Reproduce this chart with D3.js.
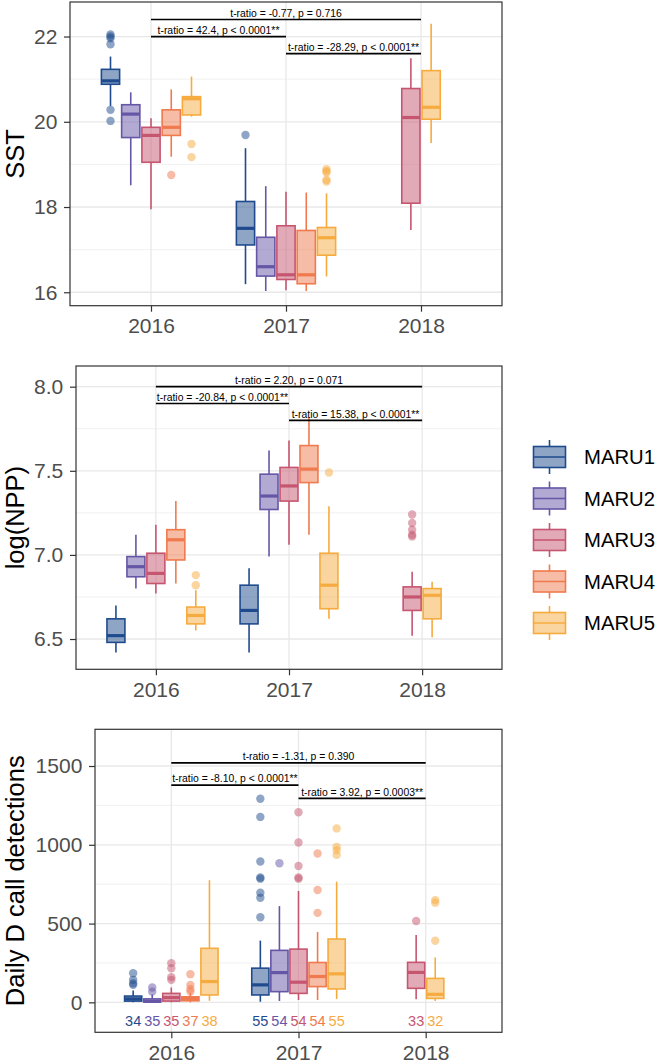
<!DOCTYPE html>
<html><head><meta charset="utf-8">
<script src="https://cdn.jsdelivr.net/npm/d3@7"></script>
<style>
body{margin:0;background:#fff}
svg{display:block}
text{font-family:"Liberation Sans",Arial,Helvetica,sans-serif}
</style>
</head><body>
<svg id="chart" width="661" height="1064"></svg>
<script>
// ---------- data ----------
const years = ["2016", "2017", "2018"];
const sites = ["MARU1", "MARU2", "MARU3", "MARU4", "MARU5"];
const siteColors = ["#1f4b8e", "#6656a6", "#c65570", "#f07a4d", "#f6ab3f"];

// [year, site, lower whisker, q1, median, q3, upper whisker, outliers]
const sstBoxes = [
  ["2016","MARU1",20.37,20.88,20.96,21.23,21.53,[22.05,22.0,21.96,21.82,20.28,20.02]],
  ["2016","MARU2",18.51,19.63,20.18,20.40,20.69,[]],
  ["2016","MARU3",17.95,19.05,19.68,19.87,20.08,[]],
  ["2016","MARU4",19.18,19.68,19.87,20.28,20.76,[18.75]],
  ["2016","MARU5",20.12,20.16,20.54,20.59,21.06,[19.48,19.17]],
  ["2017","MARU1",16.19,17.11,17.50,18.13,19.38,[19.69]],
  ["2017","MARU2",16.03,16.38,16.60,17.29,18.49,[]],
  ["2017","MARU3",16.05,16.30,16.41,17.56,18.36,[]],
  ["2017","MARU4",16.03,16.20,16.41,17.45,18.34,[]],
  ["2017","MARU5",16.37,16.87,17.28,17.52,18.32,[18.89,18.84,18.81,18.64,18.60]],
  ["2018","MARU3",17.46,18.09,20.10,20.78,21.49,[]],
  ["2018","MARU5",19.50,20.06,20.34,21.20,22.30,[]]
];
const nppBoxes = [
  ["2016","MARU1",6.42,6.48,6.52,6.62,6.70,[]],
  ["2016","MARU2",6.80,6.87,6.93,6.99,7.12,[]],
  ["2016","MARU3",6.77,6.83,6.89,7.01,7.18,[]],
  ["2016","MARU4",6.83,6.97,7.09,7.15,7.32,[]],
  ["2016","MARU5",6.55,6.59,6.64,6.69,6.79,[6.82,6.88]],
  ["2017","MARU1",6.42,6.59,6.67,6.82,6.92,[]],
  ["2017","MARU2",6.99,7.27,7.35,7.48,7.62,[]],
  ["2017","MARU3",7.06,7.32,7.41,7.52,7.68,[]],
  ["2017","MARU4",7.12,7.43,7.51,7.65,7.82,[]],
  ["2017","MARU5",6.62,6.68,6.82,7.01,7.29,[7.49]],
  ["2018","MARU3",6.52,6.67,6.75,6.81,6.90,[7.24,7.19,7.15,7.12,7.11]],
  ["2018","MARU5",6.51,6.62,6.76,6.80,6.84,[]]
];
const callBoxes = [
  ["2016","MARU1",0,8,22,40,75,[111,121,143,185]],
  ["2016","MARU2",0,2,7,22,50,[68,94]],
  ["2016","MARU3",0,8,30,57,94,[143,160,217,249]],
  ["2016","MARU4",0,10,25,35,60,[68,85,111,179]],
  ["2016","MARU5",10,47,132,343,775,[]],
  ["2017","MARU1",4,47,111,217,392,[540,664,696,785,792,894,1177,1292]],
  ["2017","MARU2",9,68,189,330,611,[883]],
  ["2017","MARU3",15,57,128,338,707,[785,792,866,1015,1207]],
  ["2017","MARU4",15,100,164,253,447,[568,713,945]],
  ["2017","MARU5",21,85,181,402,766,[936,966,987,1104]],
  ["2018","MARU3",19,89,190,254,427,[516]],
  ["2018","MARU5",9,25,51,152,285,[391,632,649]]
];
// sample sizes for the call panel
const callCounts = [
  ["2016","MARU1",34],["2016","MARU2",35],["2016","MARU3",35],["2016","MARU4",37],["2016","MARU5",38],
  ["2017","MARU1",55],["2017","MARU2",54],["2017","MARU3",54],["2017","MARU4",54],["2017","MARU5",55],
  ["2018","MARU3",33],["2018","MARU5",32]
];
// [from year, to year, bracket height, label]
const sstTests = [
  ["2016","2018",22.4,"t-ratio = -0.77, p = 0.716"],
  ["2016","2017",22.0,"t-ratio = 42.4, p < 0.0001**"],
  ["2017","2018",21.6,"t-ratio = -28.29, p < 0.0001**"]
];
const nppTests = [
  ["2016","2018",8.0,"t-ratio = 2.20, p = 0.071"],
  ["2016","2017",7.9,"t-ratio = -20.84, p < 0.0001**"],
  ["2017","2018",7.8,"t-ratio = 15.38, p < 0.0001**"]
];
const callTests = [
  ["2016","2018",1520,"t-ratio = -1.31, p = 0.390"],
  ["2016","2017",1379,"t-ratio = -8.10, p < 0.0001**"],
  ["2017","2018",1294,"t-ratio = 3.92, p = 0.0003**"]
];
const sstTicks = [16, 18, 20, 22], sstMinor = [17, 19, 21];
const nppTicks = [6.5, 7.0, 7.5, 8.0], nppMinor = [6.75, 7.25, 7.75];
const callTicks = [0, 500, 1000, 1500], callMinor = [250, 750, 1250];
const countLabelValue = -150;

// ---------- drawing ----------
const svg = d3.select("#chart");
const colorOf = d3.scaleOrdinal().domain(sites).range(siteColors);

function drawPanel(cfg) {
  const {left, top, right, bottom, domain, boxes, ticks, minor, fmt, tests, title, counts} = cfg;
  const x = d3.scalePoint().domain(years).range([left, right]).padding(0.6);
  const y = d3.scaleLinear().domain(domain).range([bottom, top]);
  const step = x.step();
  const slot = 0.15 * step, bw = 0.135 * step;
  const g = svg.append("g");

  // grid
  g.selectAll(".gmin").data(minor).join("line")
    .attr("x1", left).attr("x2", right).attr("y1", d => y(d)).attr("y2", d => y(d))
    .attr("stroke", "#efefef").attr("stroke-width", 0.9);
  g.selectAll(".gmaj").data(ticks).join("line")
    .attr("x1", left).attr("x2", right).attr("y1", d => y(d)).attr("y2", d => y(d))
    .attr("stroke", "#e8e8e8").attr("stroke-width", 1.3);
  g.selectAll(".gv").data(years).join("line")
    .attr("x1", d => x(d)).attr("x2", d => x(d)).attr("y1", top).attr("y2", bottom)
    .attr("stroke", "#e8e8e8").attr("stroke-width", 1.3);

  function xPos(year, site) {
    const present = boxes.filter(b => b[0] === year).map(b => b[1])
      .sort((a, b) => sites.indexOf(a) - sites.indexOf(b));
    const i = present.indexOf(site), n = present.length;
    return x(year) + (i - (n - 1) / 2) * slot;
  }

  boxes.forEach(b => {
    const [yr, site, lo, q1, med, q3, hi, out] = b;
    const cx = xPos(yr, site), col = colorOf(site);
    const bg = g.append("g");
    bg.append("line").attr("x1", cx).attr("x2", cx).attr("y1", y(hi)).attr("y2", y(q3))
      .attr("stroke", col).attr("stroke-width", 1.6);
    bg.append("line").attr("x1", cx).attr("x2", cx).attr("y1", y(q1)).attr("y2", y(lo))
      .attr("stroke", col).attr("stroke-width", 1.6);
    bg.append("rect").attr("x", cx - bw / 2).attr("width", bw)
      .attr("y", y(q3)).attr("height", Math.max(0.5, y(q1) - y(q3)))
      .attr("fill", col).attr("fill-opacity", 0.5)
      .attr("stroke", col).attr("stroke-width", 1.6);
    bg.append("line").attr("x1", cx - bw / 2).attr("x2", cx + bw / 2)
      .attr("y1", y(med)).attr("y2", y(med))
      .attr("stroke", col).attr("stroke-width", 3.2);
    bg.selectAll("circle").data(out).join("circle")
      .attr("cx", cx).attr("cy", d => y(d)).attr("r", 4.2)
      .attr("fill", col).attr("fill-opacity", 0.5);
  });

  if (counts) {
    g.selectAll(".cnt").data(counts).join("text")
      .attr("x", d => xPos(d[0], d[1])).attr("y", y(countLabelValue))
      .attr("text-anchor", "middle").attr("font-size", 14.5)
      .attr("fill", d => colorOf(d[1])).text(d => d[2]);
  }

  // tests
  tests.forEach(t => {
    const x1 = x(t[0]), x2 = x(t[1]), yy = y(t[2]);
    g.append("line").attr("x1", x1).attr("x2", x2).attr("y1", yy).attr("y2", yy)
      .attr("stroke", "#000").attr("stroke-width", 1.7);
    g.append("text").attr("x", (x1 + x2) / 2).attr("y", yy - 2.6)
      .attr("text-anchor", "middle").attr("font-size", 10.4).attr("fill", "#000")
      .text(t[3]);
  });

  // border
  g.append("rect").attr("x", left).attr("y", top).attr("width", right - left).attr("height", bottom - top)
    .attr("fill", "none").attr("stroke", "#333").attr("stroke-width", 1.2);

  // axes
  const ya = svg.append("g").attr("transform", `translate(${left},0)`)
    .call(d3.axisLeft(y).tickValues(ticks).tickFormat(fmt).tickSize(6).tickPadding(6.7));
  const xa = svg.append("g").attr("transform", `translate(0,${bottom})`)
    .call(d3.axisBottom(x).tickSize(6).tickPadding(6.5));
  [ya, xa].forEach(a => {
    a.select(".domain").remove();
    a.selectAll(".tick line").attr("stroke", "#333").attr("stroke-width", 1.2);
    a.selectAll(".tick text").attr("fill", "#4d4d4d").attr("font-size", 21)
      .attr("font-family", '"Liberation Sans",Arial,sans-serif');
  });

  svg.append("text").attr("transform", `translate(23.5,${(top + bottom) / 2}) rotate(-90)`)
    .attr("text-anchor", "middle").attr("font-size", 25.5).attr("fill", "#000").text(title);
}

drawPanel({left: 70, top: 2, right: 502, bottom: 305.7, domain: [15.685, 22.81],
  boxes: sstBoxes, ticks: sstTicks, minor: sstMinor, fmt: d3.format("d"), tests: sstTests, title: "SST"});
drawPanel({left: 76, top: 366, right: 502, bottom: 669.3, domain: [6.32, 8.123],
  boxes: nppBoxes, ticks: nppTicks, minor: nppMinor, fmt: d3.format(".1f"), tests: nppTests, title: "log(NPP)"});
drawPanel({left: 95, top: 729.3, right: 502, bottom: 1032.3, domain: [-190, 1733],
  boxes: callBoxes, ticks: callTicks, minor: callMinor, fmt: d3.format("d"), tests: callTests,
  title: "Daily D call detections", counts: callCounts});

// legend
const legY = d3.scalePoint().domain(sites).range([457, 623]);
const lg = svg.append("g");
sites.forEach(s => {
  const cy = legY(s), col = colorOf(s);
  lg.append("line").attr("x1", 549.5).attr("x2", 549.5).attr("y1", cy - 17).attr("y2", cy + 17)
    .attr("stroke", col).attr("stroke-width", 1.6);
  lg.append("rect").attr("x", 533.5).attr("y", cy - 10.5).attr("width", 32).attr("height", 21)
    .attr("fill", "#fff");
  lg.append("rect").attr("x", 533.5).attr("y", cy - 10.5).attr("width", 32).attr("height", 21)
    .attr("fill", col).attr("fill-opacity", 0.5).attr("stroke", col).attr("stroke-width", 1.6);
  lg.append("line").attr("x1", 533.5).attr("x2", 565.5).attr("y1", cy).attr("y2", cy)
    .attr("stroke", col).attr("stroke-width", 1.6);
  lg.append("text").attr("x", 584).attr("y", cy + 7.3).attr("font-size", 20.3).attr("fill", "#000").text(s);
});
</script>
</body></html>
